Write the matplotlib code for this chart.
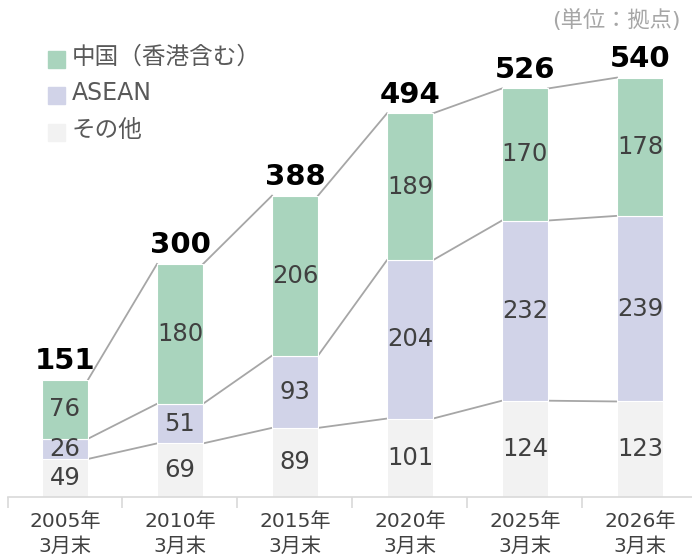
import matplotlib
matplotlib.use("Agg")
import matplotlib.pyplot as plt
import numpy as np

plt.rcParams['font.family'] = ['DejaVu Sans', 'Noto Sans CJK JP']

categories = ["2005年\n3月末", "2010年\n3月末", "2015年\n3月末", "2020年\n3月末", "2025年\n3月末", "2026年\n3月末"]
other = [49, 69, 89, 101, 124, 123]
asean = [26, 51, 93, 204, 232, 239]
china = [76, 180, 206, 189, 170, 178]
totals = [151, 300, 388, 494, 526, 540]
series_names = ["中国（香港含む）", "ASEAN", "その他"]

c_china = "#A9D4BD"
c_asean = "#D1D3E8"
c_other = "#F2F2F2"
txt = "#404040"
line_c = "#A6A6A6"

fig = plt.figure(figsize=(6.92, 5.58), dpi=100)
ax = fig.add_axes([7.5/692, 61/558, 690/692, 466/558])

x = np.arange(len(categories))
w = 0.4
other_a = np.array(other)
asean_a = np.array(asean)
china_a = np.array(china)

ax.bar(x, other_a, w, color=c_other, edgecolor="white", linewidth=0.8, zorder=2)
ax.bar(x, asean_a, w, bottom=other_a, color=c_asean, edgecolor="white", linewidth=0.8, zorder=2)
ax.bar(x, china_a, w, bottom=other_a + asean_a, color=c_china, edgecolor="white", linewidth=0.8, zorder=2)

# connecting lines
levels = [other_a, other_a + asean_a, other_a + asean_a + china_a]
for lv in levels:
    for i in range(len(x) - 1):
        ax.plot([x[i] + w/2, x[i+1] - w/2], [lv[i], lv[i+1]], color=line_c, lw=1.3, zorder=1)

fs = 17.5
for i in range(len(x)):
    ax.text(x[i], other_a[i]/2, str(other[i]), ha="center", va="center", fontsize=fs, color=txt, zorder=3)
    ax.text(x[i], other_a[i] + asean_a[i]/2, str(asean[i]), ha="center", va="center", fontsize=fs, color=txt, zorder=3)
    ax.text(x[i], other_a[i] + asean_a[i] + china_a[i]/2, str(china[i]), ha="center", va="center", fontsize=fs, color=txt, zorder=3)
    ax.text(x[i], totals[i] + 6, str(totals[i]), ha="center", va="bottom", fontsize=21, fontweight="bold", color="black", zorder=3)

ax.set_xlim(-0.5, 5.5)
ax.set_ylim(0, 600)
ax.set_yticks([])
for s in ["top", "right", "left"]:
    ax.spines[s].set_visible(False)
ax.spines["bottom"].set_color("#D9D9D9")
ax.spines["bottom"].set_linewidth(1.2)
ax.set_xticks(np.arange(-0.5, 5.6, 1.0), minor=False)
ax.set_xticklabels([])
ax.tick_params(axis="x", length=8, color="#D9D9D9", width=1.2, direction="out")
for i, c in enumerate(categories):
    ax.text(x[i], -19, c, ha="center", va="top", fontsize=14.5, color=txt, linespacing=1.4)

# legend
leg_cols = [c_china, c_asean, c_other]
leg_y = [57, 93, 130]
leg_fs = [17, 17, 17]
for name, col, yy, lf in zip(series_names, leg_cols, leg_y, leg_fs):
    fig.patches.append(plt.Rectangle((48/692, 1 - (yy + 11)/558), 17/692, 17/558,
                                     transform=fig.transFigure, color=col, figure=fig))
    fig.text(72/692, 1 - yy/558, name, ha="left", va="center", fontsize=lf, color="#595959")

fig.text(681/692, 1 - 20/558, "(単位：拠点)", ha="right", va="center", fontsize=16, color="#A6A6A6")

fig.savefig("out.png", dpi=100)
